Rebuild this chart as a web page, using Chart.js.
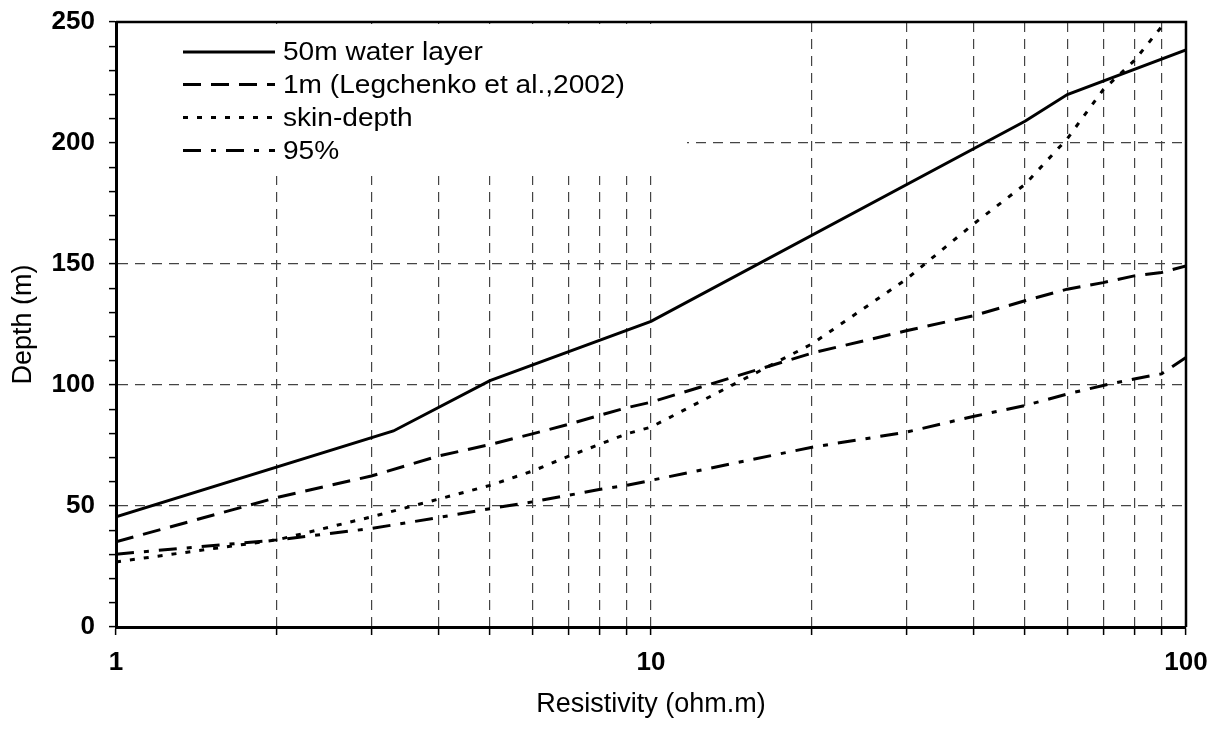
<!DOCTYPE html>
<html><head><meta charset="utf-8">
<script src="https://cdn.jsdelivr.net/npm/chart.js@4.4.1/dist/chart.umd.min.js"></script>
<style>html,body{margin:0;padding:0;background:#fff;}#wrap{width:1221px;height:729px;}</style>
</head><body><div id="wrap"><canvas id="c" width="1221" height="729"></canvas></div>
<script>
// ---- data ----
const resistivity = [1,2,3,4,5,6,7,8,9,10,20,30,40,50,60,70,80,90,100];
const waterLayerX = [1,3.3,5,10,50,60,100];
const waterLayerDepth = [45.5,81,101.8,126.3,209,220,238.5];
const legchenkoDepth = [35.2,53.5,62.4,70.6,75.4,79.8,83.7,87.4,90.6,92.9,113.2,122.4,128.6,134.8,139.6,142.3,145.1,146.5,149.2];
const skinDepth = [26.9,36,45.5,52.8,58.5,64.4,70.5,75.4,79.8,82.6,117,143.7,166.4,182.9,201.8,222,234,248,260];
const pct95Depth = [30.1,36,40.7,45.2,48.9,51.7,54.4,56.8,58.5,60.6,74.3,80.5,87,91.5,96.3,99.8,102.5,104.6,111.4];
const seriesLabels = ['50m water layer','1m (Legchenko et al.,2002)','skin-depth','95%'];
const xTickValues = [1,2,3,4,5,6,7,8,9,10,20,30,40,50,60,70,80,90,100];
const xLabelValues = [1,10,100];
const yMin = 0, yMax = 250, yMinorStep = 10, yLabelStep = 50;

const FONT = '"Liberation Sans", Arial, sans-serif';
const pts = (xs, ys) => xs.map((x,i)=>({x, y: ys[i]}));

const dashes = [[], [18,10], [5,9], [18,10,5,10]];

const legendPlugin = {
  id: 'innerLegend',
  beforeDatasetsDraw(chart) {
    const {ctx, chartArea: a} = chart;
    ctx.save();
    ctx.fillStyle = '#fff';
    ctx.fillRect(a.left + 2, a.top + 2, 571 - 2, 154 - 2);
    const rows = [30, 62.5, 95.5, 128.5];
    chart.data.datasets.forEach((ds, i) => {
      const y = a.top + rows[i];
      ctx.strokeStyle = '#000';
      ctx.lineWidth = 3;
      ctx.setLineDash(ds.borderDash || []);
      ctx.beginPath();
      ctx.moveTo(a.left + 67, y);
      ctx.lineTo(a.left + 159, y);
      ctx.stroke();
      ctx.setLineDash([]);
      ctx.fillStyle = '#000';
      ctx.font = '26px ' + FONT;
      ctx.textBaseline = 'middle';
      ctx.save();
      ctx.translate(a.left + 167, y + 1);
      ctx.scale(1.08, 1);
      ctx.fillText(ds.label, 0, 0);
      ctx.restore();
    });
    ctx.restore();
  },
  afterDatasetsDraw(chart) {
    const {ctx, chartArea: a} = chart;
    ctx.save();
    ctx.strokeStyle = '#000';
    ctx.lineWidth = 2.5;
    ctx.beginPath();
    ctx.moveTo(a.left, a.top);
    ctx.lineTo(a.right, a.top);
    ctx.lineTo(a.right, a.bottom);
    ctx.stroke();
    ctx.restore();
  }
};

new Chart(document.getElementById('c'), {
  type: 'line',
  data: {
    datasets: [
      {label: seriesLabels[0], data: pts(waterLayerX, waterLayerDepth), borderDash: dashes[0]},
      {label: seriesLabels[1], data: pts(resistivity, legchenkoDepth), borderDash: dashes[1]},
      {label: seriesLabels[2], data: pts(resistivity, skinDepth), borderDash: dashes[2]},
      {label: seriesLabels[3], data: pts(resistivity, pct95Depth), borderDash: dashes[3]}
    ].map(d => Object.assign({borderColor: '#000', borderWidth: 3, pointRadius: 0, tension: 0, fill: false}, d))
  },
  options: {
    responsive: false,
    animation: false,
    layout: {padding: {left: 0, right: 35, top: 22, bottom: 0}},
    plugins: {legend: {display: false}, tooltip: {enabled: false}},
    scales: {
      x: {
        type: 'logarithmic', min: 1, max: 100,
        afterBuildTicks(s) { s.ticks = xTickValues.map(v => ({value: v, major: xLabelValues.includes(v)})); },
        afterFit(s) { s.height = 102; },
        ticks: {
          autoSkip: false, maxRotation: 0, padding: 12, color: '#000',
          font: {family: FONT, size: 26, weight: 'bold'},
          callback: (v) => xLabelValues.includes(v) ? String(v) : ''
        },
        grid: {
          color: c => (c.tick && (c.tick.value === 1 || c.tick.value === 100)) ? 'rgba(0,0,0,0)' : '#444',
          lineWidth: 1.2, tickColor: '#000', tickLength: 8, tickWidth: 1.5, tickBorderDash: []
        },
        border: {display: true, color: '#000', width: 3, dash: [10,7]},
        title: {display: true, text: 'Resistivity (ohm.m)', color: '#000', font: {family: FONT, size: 27}, padding: {top: 0, bottom: 8}}
      },
      y: {
        min: yMin, max: yMax,
        afterFit(s) { s.width = 116; s.paddingTop = 0; s.paddingBottom = 0; },
        ticks: {
          stepSize: yMinorStep, autoSkip: false, padding: 14, color: '#000',
          font: {family: FONT, size: 26, weight: 'bold'},
          callback: (v) => (v % yLabelStep === 0) ? String(v) : ''
        },
        grid: {
          color: c => {
            const v = c.tick && c.tick.value;
            return (v % yLabelStep === 0 && v !== yMin && v !== yMax) ? '#444' : 'rgba(0,0,0,0)';
          },
          lineWidth: 1.2, tickColor: '#000', tickLength: 7, tickWidth: 1.5, tickBorderDash: []
        },
        border: {display: true, color: '#000', width: 3, dash: [10,7]},
        title: {display: true, text: 'Depth (m)', color: '#000', font: {family: FONT, size: 27}, padding: {top: 7, bottom: 0}}
      }
    }
  },
  plugins: [legendPlugin]
});
</script></body></html>
